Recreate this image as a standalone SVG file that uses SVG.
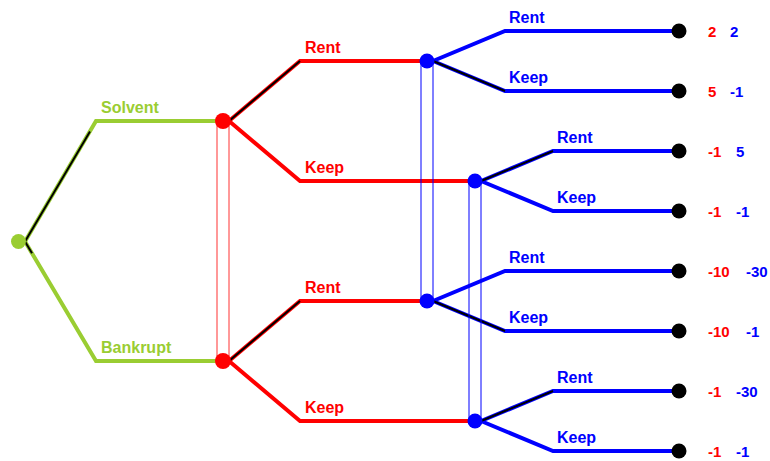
<svg xmlns="http://www.w3.org/2000/svg" width="770" height="461" viewBox="0 0 770 461">
<style>
text{font-family:"Liberation Sans",Arial,sans-serif;font-weight:bold;font-size:16px}
.g{stroke:#9ACD32;stroke-width:4;fill:none}
.r{stroke:#FF0000;stroke-width:4;fill:none}
.b{stroke:#0000FF;stroke-width:4;fill:none}
.k{stroke:#000;stroke-width:2;fill:none}
.ri{stroke:#FF3333;stroke-width:1;fill:none}
.bi{stroke:#0000FF;stroke-width:1;fill:none}
.tg{fill:#9ACD32}.tr{fill:#FF0000}.tb{fill:#0000FF}
.pr{fill:#FF0000;font-size:15px}.pb{fill:#0000FF;font-size:15px}
</style>
<g id="connectors">
<path class="g" d="M25,241.5 L96,121 L222,121"/>
<path class="g" d="M25,241.5 L96,361 L222,361"/>
<path class="k" d="M25,241.5 L90,131.5"/>
<path class="k" d="M25,241.5 L32,253.3"/>
<path class="r" d="M229,121 L300,61 L427,61"/>
<path class="r" d="M229,121 L300,181 L475,181"/>
<path class="r" d="M229,361 L300,301 L427,301"/>
<path class="r" d="M229,361 L300,421 L475,421"/>
<path class="k" d="M229,121 L300,61"/>
<path class="k" d="M229,361 L300,301"/>
<path class="b" d="M433,61 L505,31 L679,31"/>
<path class="b" d="M433,61 L505,91 L679,91"/>
<path class="b" d="M481,181 L553,151 L679,151"/>
<path class="b" d="M481,181 L553,211 L679,211"/>
<path class="b" d="M433,301 L505,271 L679,271"/>
<path class="b" d="M433,301 L505,331 L679,331"/>
<path class="b" d="M481,421 L553,391 L679,391"/>
<path class="b" d="M481,421 L553,451 L679,451"/>
<path class="k" d="M433,61 L505,91"/>
<path class="k" d="M481,181 L553,151"/>
<path class="k" d="M433,301 L505,331"/>
<path class="k" d="M481,421 L553,391"/>
<text class="tg" x="101" y="113">Solvent</text>
<text class="tg" x="101" y="353">Bankrupt</text>
<text class="tr" x="305" y="53">Rent</text>
<text class="tr" x="305" y="173">Keep</text>
<text class="tr" x="305" y="293">Rent</text>
<text class="tr" x="305" y="413">Keep</text>
<text class="tb" x="509" y="23">Rent</text>
<text class="tb" x="509" y="83">Keep</text>
<text class="tb" x="557" y="143">Rent</text>
<text class="tb" x="557" y="203">Keep</text>
<text class="tb" x="509" y="263">Rent</text>
<text class="tb" x="509" y="323">Keep</text>
<text class="tb" x="557" y="383">Rent</text>
<text class="tb" x="557" y="443">Keep</text>
</g>
<g id="infosets">
<rect class="ri" x="217" y="121" width="12" height="240"/>
<rect class="bi" x="421" y="61" width="12" height="240"/>
<rect class="bi" x="469" y="181" width="12" height="240"/>
</g>
<g id="root"><circle cx="18.5" cy="241.5" r="7.5" fill="#9ACD32"/></g>
<g id="p1-solvent"><circle cx="223" cy="121" r="8" fill="#FF0000"/></g>
<g id="p1-bankrupt"><circle cx="223" cy="361" r="8" fill="#FF0000"/></g>
<g id="p2-a"><circle cx="427" cy="61" r="7.5" fill="#0000FF"/></g>
<g id="p2-b"><circle cx="475" cy="181" r="7.5" fill="#0000FF"/></g>
<g id="p2-c"><circle cx="427" cy="301" r="7.5" fill="#0000FF"/></g>
<g id="p2-d"><circle cx="475" cy="421" r="7.5" fill="#0000FF"/></g>
<g id="t1"><circle cx="679" cy="31" r="7.5"/><text class="pr" x="708" y="37">2</text><text class="pb" x="730" y="37">2</text></g>
<g id="t2"><circle cx="679" cy="91" r="7.5"/><text class="pr" x="708" y="97">5</text><text class="pb" x="730" y="97">-1</text></g>
<g id="t3"><circle cx="679" cy="151" r="7.5"/><text class="pr" x="708" y="157">-1</text><text class="pb" x="736" y="157">5</text></g>
<g id="t4"><circle cx="679" cy="211" r="7.5"/><text class="pr" x="708" y="217">-1</text><text class="pb" x="736" y="217">-1</text></g>
<g id="t5"><circle cx="679" cy="271" r="7.5"/><text class="pr" x="708" y="277">-10</text><text class="pb" x="746" y="277">-30</text></g>
<g id="t6"><circle cx="679" cy="331" r="7.5"/><text class="pr" x="708" y="337">-10</text><text class="pb" x="746" y="337">-1</text></g>
<g id="t7"><circle cx="679" cy="391" r="7.5"/><text class="pr" x="708" y="397">-1</text><text class="pb" x="736" y="397">-30</text></g>
<g id="t8"><circle cx="679" cy="451" r="7.5"/><text class="pr" x="708" y="457">-1</text><text class="pb" x="736" y="457">-1</text></g>
</svg>
